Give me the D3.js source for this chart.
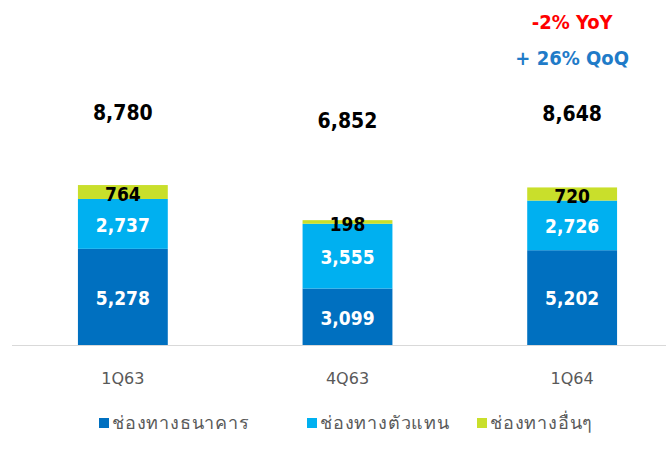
<!DOCTYPE html>
<html lang="th">
<head>
  <meta charset="utf-8">
  <title>1Q63 4Q63 1Q64</title>
  <script src="https://d3js.org/d3.v7.min.js"></script>
  <style>
    body {
      margin: 0;
      background: #fff;
    }
    svg {
      display: block;
    }
  </style>
</head>
<body>
  <svg id="chart"></svg>

  <script>
    // данные
    const quarters = ["1Q63", "4Q63", "1Q64"];
    const seriesNames = ["ช่องทางธนาคาร", "ช่องทางตัวแทน", "ช่องทางอื่นๆ"];
    const bank = [5278, 3099, 5202];
    const agent = [2737, 3555, 2726];
    const other = [764, 198, 720];
    const totals = [8780, 6852, 8648];
    const growthNotes = ["-2% YoY", "+ 26% QoQ"];

    const colors = ["#0070C0", "#00B0F0", "#C9DF2B"];
    const numFont = "'DejaVu Sans Condensed', 'DejaVu Sans', Tahoma, sans-serif";

    const width = 666, height = 452;
    const svg = d3.select("#chart")
      .attr("width", width)
      .attr("height", height);

    const rows = quarters.map((q, i) => ({
      quarter: q,
      [seriesNames[0]]: bank[i],
      [seriesNames[1]]: agent[i],
      [seriesNames[2]]: other[i]
    }));

    const stacked = d3.stack().keys(seriesNames)(rows);

    const x = d3.scaleBand()
      .domain(quarters)
      .range([33, 662])
      .paddingInner(0.6)
      .paddingOuter(0.2);

    const y = d3.scaleLinear()
      .domain([0, 9000])
      .range([345, 345 - 9000 * 0.01822]);

    // подписи итогов стоят на своей (скрытой) оси
    const yTotal = d3.scaleLinear()
      .domain([0, 10000])
      .range([149, 107.5]);

    // ось X
    svg.append("line")
      .attr("x1", 12)
      .attr("x2", width)
      .attr("y1", y(0) + 0.5)
      .attr("y2", y(0) + 0.5)
      .attr("stroke", "#D9D9D9")
      .attr("stroke-width", 1);

    const layers = svg.append("g").selectAll("g")
      .data(stacked)
      .join("g")
      .attr("fill", (d, i) => colors[i]);

    layers.selectAll("rect")
      .data(d => d)
      .join("rect")
      .attr("x", d => x(d.data.quarter))
      .attr("width", x.bandwidth())
      .attr("y", d => y(d[1]))
      .attr("height", d => y(d[0]) - y(d[1]));

    // подписи внутри столбцов
    layers.selectAll("text")
      .data((d, i) => d.map(s => ({ s, i, key: d.key })))
      .join("text")
      .attr("x", d => x(d.s.data.quarter) + x.bandwidth() / 2)
      .attr("y", d => (y(d.s[0]) + y(d.s[1])) / 2 + (d.i === 2 ? 2 : 1))
      .attr("dy", "0.36em")
      .attr("text-anchor", "middle")
      .attr("font-family", numFont)
      .attr("font-weight", "bold")
      .attr("font-size", 19)
      .attr("fill", d => d.i === 2 ? "#000" : "#fff")
      .text(d => d3.format(",")(d.s.data[d.key]));

    // итоги
    svg.append("g").selectAll("text")
      .data(totals)
      .join("text")
      .attr("x", (d, i) => x(quarters[i]) + x.bandwidth() / 2)
      .attr("y", d => yTotal(d))
      .attr("dy", "0.36em")
      .attr("text-anchor", "middle")
      .attr("font-family", numFont)
      .attr("font-weight", "bold")
      .attr("font-size", 21)
      .attr("fill", "#000")
      .text(d => d3.format(",")(d));

    // YoY / QoQ
    const lastX = x(quarters[2]) + x.bandwidth() / 2;
    svg.append("text")
      .attr("x", lastX)
      .attr("y", 22)
      .attr("dy", "0.36em")
      .attr("text-anchor", "middle")
      .attr("font-family", numFont)
      .attr("font-weight", "bold")
      .attr("font-size", 20)
      .attr("fill", "#FF0000")
      .text(growthNotes[0]);
    svg.append("text")
      .attr("x", lastX)
      .attr("y", 58)
      .attr("dy", "0.36em")
      .attr("text-anchor", "middle")
      .attr("font-family", numFont)
      .attr("font-weight", "bold")
      .attr("font-size", 20)
      .attr("fill", "#1F7BC8")
      .text(growthNotes[1]);

    // подписи кварталов
    svg.append("g").selectAll("text")
      .data(quarters)
      .join("text")
      .attr("x", d => x(d) + x.bandwidth() / 2)
      .attr("y", 378)
      .attr("dy", "0.36em")
      .attr("text-anchor", "middle")
      .attr("font-family", "'DejaVu Sans', sans-serif")
      .attr("font-size", 16)
      .attr("fill", "#595959")
      .text(d => d);

    // легенда
    const legendX = [99, 307, 477];
    const legend = svg.append("g").selectAll("g")
      .data(seriesNames)
      .join("g")
      .attr("transform", (d, i) => `translate(${legendX[i]}, 423)`);

    legend.append("rect")
      .attr("x", 0)
      .attr("y", -5)
      .attr("width", 10)
      .attr("height", 10)
      .attr("fill", (d, i) => colors[i]);

    legend.append("text")
      .attr("x", 13)
      .attr("y", 0)
      .attr("dy", "0.36em")
      .attr("font-family", "'Noto Sans', 'DejaVu Sans', sans-serif")
      .attr("font-size", 18)
      .attr("letter-spacing", 0.8)
      .attr("fill", "#595959")
      .text(d => d);
  </script>
</body>
</html>
